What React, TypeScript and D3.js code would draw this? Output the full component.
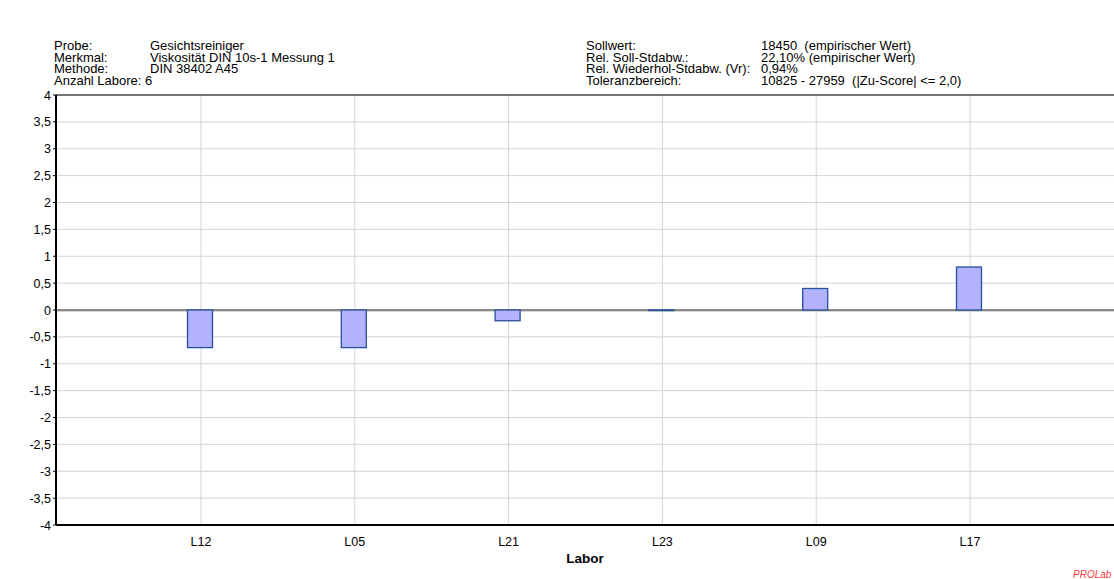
import React from "react";
import * as d3 from "d3";

const labs = ["L12", "L05", "L21", "L23", "L09", "L17"];
const zScores = [-0.7, -0.7, -0.2, -0.01, 0.4, 0.8];
const yTicks = [4, 3.5, 3, 2.5, 2, 1.5, 1, 0.5, 0, -0.5, -1, -1.5, -2, -2.5, -3, -3.5, -4];
const infoLeft = [
  ["Probe:", "Gesichtsreiniger"],
  ["Merkmal:", "Viskosität DIN 10s-1 Messung 1"],
  ["Methode:", "DIN 38402 A45"],
];
const labCountLine = "Anzahl Labore: 6";
const infoRight = [
  ["Sollwert:", "18450\u00a0 (empirischer Wert)"],
  ["Rel. Soll-Stdabw.:", "22,10% (empirischer Wert)"],
  ["Rel. Wiederhol-Stdabw. (Vr):", "0,94%"],
  ["Toleranzbereich:", "10825 - 27959\u00a0 (|Zu-Score| <= 2,0)"],
];

const W = 1114;
const H = 579;
const left = 56;
const top = 95;
const bottom = 525;
const font = "Liberation Sans, Arial, sans-serif";
const lineH = 11.7;

export default function App() {
  const y = d3.scaleLinear().domain([-4, 4]).range([bottom, top]);
  const x = d3.scalePoint<string>().domain(labs).range([201, 970]);
  const fmt = (v: number) => String(v).replace(".", ",");
  const barW = 25;

  return (
    <svg
      width={W}
      height={H}
      style={{ position: "absolute", left: 0, top: 0, background: "#fff" }}
      fontFamily={font}
    >
      {/* header */}
      <g fontSize={13} fill="#000">
        {infoLeft.map(([k, v], i) => (
          <g key={k}>
            <text x={54} y={50 + i * lineH}>{k}</text>
            <text x={150} y={50 + i * lineH}>{v}</text>
          </g>
        ))}
        <text x={54} y={50 + 3 * lineH}>{labCountLine}</text>
        {infoRight.map(([k, v], i) => (
          <g key={k}>
            <text x={586} y={50 + i * lineH}>{k}</text>
            <text x={761} y={50 + i * lineH}>{v}</text>
          </g>
        ))}
      </g>

      {/* grid */}
      {yTicks.map((t) => (
        <line key={t} x1={left} x2={W} y1={y(t)} y2={y(t)} stroke="#d4d4d4" strokeWidth={1} />
      ))}
      {labs.map((l) => (
        <line key={l} x1={x(l)} x2={x(l)} y1={top} y2={bottom} stroke="#d4d4d4" strokeWidth={1} />
      ))}

      {/* zero line */}
      <line x1={left} x2={W} y1={y(0) + 1} y2={y(0) + 1} stroke="#b0b0b0" strokeWidth={1} />
      <line x1={left} x2={W} y1={y(0)} y2={y(0)} stroke="#6e6e6e" strokeWidth={1.5} />

      {/* bars */}
      {zScores.map((v, i) => {
        const cx = x(labs[i])! - 1;
        const y0 = y(Math.max(0, v));
        const y1 = y(Math.min(0, v));
        return (
          <rect
            key={labs[i]}
            x={cx - barW / 2}
            y={y0}
            width={barW}
            height={Math.max(0.5, y1 - y0)}
            fill="#b3b3fd"
            stroke="#264f9c"
            strokeWidth={1.3}
          />
        );
      })}

      {/* frame */}
      <line x1={left} x2={W} y1={top} y2={top} stroke="#000" strokeWidth={1.2} />
      <line x1={left} x2={W} y1={bottom} y2={bottom} stroke="#000" strokeWidth={2} />
      <line x1={left} x2={left} y1={top} y2={bottom} stroke="#000" strokeWidth={2} />

      {/* y ticks */}
      {yTicks.map((t) => (
        <g key={"t" + t}>
          <line x1={left - 3} x2={left} y1={y(t)} y2={y(t)} stroke="#000" />
          <text x={51} y={y(t) + 4.5} fontSize={12.5} textAnchor="end" fill="#000">
            {fmt(t)}
          </text>
        </g>
      ))}

      {/* x labels */}
      {labs.map((l) => (
        <text key={"x" + l} x={x(l)} y={546} fontSize={12.5} textAnchor="middle" fill="#000">
          {l}
        </text>
      ))}
      <text x={585} y={563} fontSize={13.5} fontWeight="bold" textAnchor="middle" fill="#000">
        Labor
      </text>
      <text x={1073} y={578} fontSize={10} fontStyle="italic" fill="#ff3b3b">
        PROLab
      </text>
    </svg>
  );
}
